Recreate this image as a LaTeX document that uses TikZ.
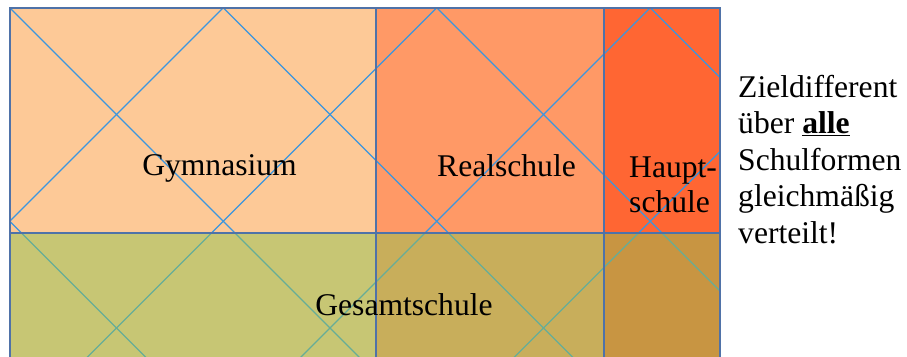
\documentclass[tikz,border=0pt]{standalone}
\usepackage{fontspec}
\setmainfont{Liberation Serif}
\definecolor{gymc}{HTML}{FDC997}
\definecolor{realc}{HTML}{FF9966}
\definecolor{hauptc}{HTML}{FF6633}
\definecolor{gesc}{HTML}{92C452}
\definecolor{linec}{HTML}{3B96DE}
\definecolor{borderc}{HTML}{4F72A8}
\tikzset{
  diag/.style={draw=linec, line width=1.1pt},
  frame/.style={draw=borderc, line width=1.3pt},
  lbl/.style={inner sep=0pt, font=\fontsize{31.6}{36.5}\selectfont, text=black},
}
\begin{document}
\begin{tikzpicture}[x=1pt,y=-1pt]
\useasboundingbox (0,0) rectangle (907,356);
\begin{scope}
\clip (0,0) rectangle (907,356);
\fill[gymc] (10,8) rectangle (376,380);
\fill[realc] (376,8) rectangle (604,380);
\fill[hauptc] (604,8) rectangle (720,380);
\begin{scope}
\clip (10,8) rectangle (720,380);
\foreach \c in {-211.5,2,215.5,429,642.5}
  \draw[diag] (\c-20,-20) -- (\c+420,420);
\foreach \c in {231,444.5,658,871.5}
  \draw[diag] (\c+20,-20) -- (\c-420,420);
\end{scope}
\fill[gesc, opacity=0.5] (10,233) rectangle (720,380);
\draw[frame] (376,8) -- (376,380);
\draw[frame] (604,8) -- (604,380);
\draw[frame] (10,233) -- (720,233);
\draw[frame] (10,380) -- (10,8) -- (720,8) -- (720,380);
\end{scope}
\node[lbl, anchor=base] (gym) at (219.5,175) {Gymnasium};
\node[lbl, anchor=base] (real) at (506.5,176) {Realschule};
\node[lbl, anchor=base west] (haupt1) at (629,177) {Haupt-};
\node[lbl, anchor=base west] (haupt2) at (629,212) {schule};
\node[lbl, anchor=base] (ges) at (404,315) {Gesamtschule};
\node[lbl, anchor=base west] (t1) at (738,97) {Zieldifferent};
\node[lbl, anchor=base west] (t2) at (738,133.5) {über \textbf{\underline{alle}}};
\node[lbl, anchor=base west] (t3) at (738,170) {Schulformen};
\node[lbl, anchor=base west] (t4) at (738,206.5) {gleichmäßig};
\node[lbl, anchor=base west] (t5) at (738,243) {verteilt!};
\end{tikzpicture}
\end{document}
